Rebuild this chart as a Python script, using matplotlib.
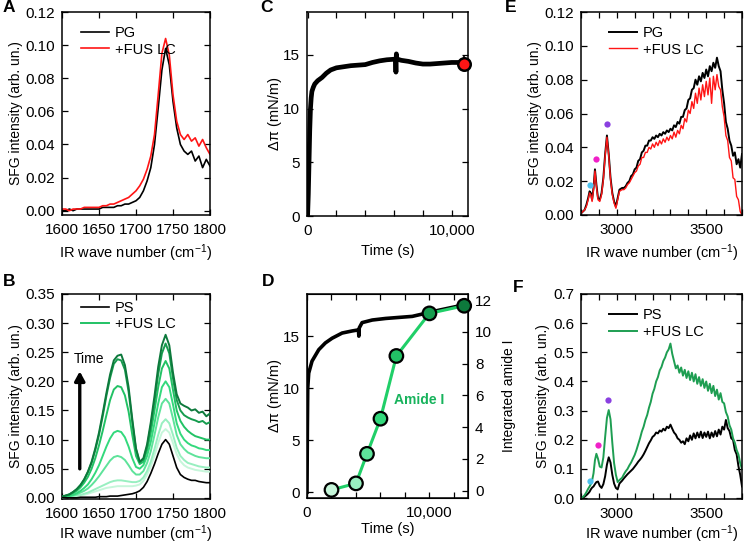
import matplotlib
matplotlib.use("Agg")
import matplotlib.pyplot as plt
from matplotlib.ticker import MultipleLocator, FixedLocator

plt.rcParams['font.family'] = ['Liberation Sans', 'DejaVu Sans']
plt.rcParams['mathtext.fontset'] = 'custom'
plt.rcParams['mathtext.rm'] = 'Liberation Sans'
plt.rcParams['mathtext.it'] = 'Liberation Sans:italic'
plt.rcParams['font.size'] = 10

# ---------------- data ----------------
# panel A (amide region, PG)
wn_A = list(range(1600, 1801, 5))
pg_A = [0.000, 0.000, 0.001, 0.000, 0.001, 0.001, 0.001, 0.001, 0.001, 0.001,
        0.001, 0.002, 0.002, 0.002, 0.002, 0.003, 0.003, 0.004, 0.004, 0.005,
        0.006, 0.008, 0.012, 0.018, 0.026, 0.040, 0.062, 0.085, 0.098, 0.088,
        0.066, 0.050, 0.040, 0.036, 0.034, 0.036, 0.030, 0.033, 0.026, 0.031, 0.027]
fus_A = [0.001, 0.001, 0.000, 0.001, 0.001, 0.001, 0.002, 0.002, 0.002, 0.002,
         0.002, 0.003, 0.003, 0.004, 0.004, 0.005, 0.006, 0.007, 0.008, 0.010,
         0.012, 0.015, 0.019, 0.025, 0.033, 0.046, 0.070, 0.095, 0.104, 0.094,
         0.070, 0.054, 0.046, 0.043, 0.046, 0.042, 0.044, 0.039, 0.043, 0.038, 0.034]

# panel B (amide region, PS, time series)
wn_B = list(range(1600, 1801, 5))
ps_B = [0.000, 0.000, 0.000, 0.000, 0.000, 0.001, 0.001, 0.001, 0.001, 0.001,
        0.002, 0.002, 0.002, 0.003, 0.003, 0.003, 0.004, 0.005, 0.006, 0.007,
        0.009, 0.012, 0.018, 0.028, 0.042, 0.058, 0.076, 0.092, 0.100, 0.092,
        0.072, 0.052, 0.040, 0.035, 0.032, 0.030, 0.030, 0.028, 0.027, 0.026, 0.026]
fus_B = [
    [0.000, 0.001, 0.001, 0.002, 0.003, 0.004, 0.005, 0.007, 0.009, 0.011,
     0.013, 0.015, 0.017, 0.018, 0.019, 0.020, 0.020, 0.020, 0.020, 0.020,
     0.021, 0.023, 0.029, 0.040, 0.054, 0.073, 0.094, 0.112, 0.118, 0.112,
     0.094, 0.075, 0.063, 0.056, 0.052, 0.050, 0.048, 0.047, 0.046, 0.045, 0.045],
    [0.001, 0.001, 0.002, 0.003, 0.004, 0.005, 0.007, 0.009, 0.012, 0.015,
     0.018, 0.021, 0.024, 0.027, 0.029, 0.030, 0.030, 0.029, 0.028, 0.027,
     0.027, 0.029, 0.035, 0.046, 0.062, 0.084, 0.108, 0.128, 0.135, 0.128,
     0.108, 0.086, 0.072, 0.065, 0.060, 0.058, 0.056, 0.054, 0.053, 0.052, 0.052],
    [0.001, 0.002, 0.003, 0.004, 0.006, 0.009, 0.012, 0.016, 0.022, 0.029,
     0.037, 0.046, 0.055, 0.064, 0.070, 0.072, 0.070, 0.065, 0.056, 0.046,
     0.040, 0.040, 0.046, 0.060, 0.080, 0.108, 0.138, 0.162, 0.170, 0.162,
     0.136, 0.108, 0.092, 0.084, 0.078, 0.075, 0.072, 0.070, 0.069, 0.068, 0.068],
    [0.001, 0.002, 0.003, 0.005, 0.008, 0.012, 0.017, 0.023, 0.032, 0.043,
     0.056, 0.072, 0.088, 0.102, 0.112, 0.115, 0.113, 0.104, 0.088, 0.068,
     0.053, 0.050, 0.056, 0.072, 0.096, 0.128, 0.162, 0.190, 0.200, 0.190,
     0.160, 0.128, 0.110, 0.100, 0.094, 0.090, 0.088, 0.085, 0.084, 0.082, 0.082],
    [0.002, 0.003, 0.005, 0.008, 0.012, 0.018, 0.026, 0.036, 0.050, 0.068,
     0.090, 0.115, 0.142, 0.168, 0.186, 0.192, 0.190, 0.176, 0.148, 0.108,
     0.072, 0.058, 0.062, 0.082, 0.112, 0.150, 0.190, 0.222, 0.235, 0.222,
     0.185, 0.150, 0.132, 0.122, 0.115, 0.110, 0.106, 0.104, 0.102, 0.100, 0.100],
    [0.002, 0.004, 0.006, 0.010, 0.015, 0.022, 0.031, 0.044, 0.060, 0.082,
     0.108, 0.140, 0.175, 0.206, 0.230, 0.238, 0.236, 0.220, 0.182, 0.130,
     0.083, 0.061, 0.066, 0.088, 0.124, 0.166, 0.212, 0.248, 0.265, 0.248,
     0.205, 0.168, 0.150, 0.142, 0.138, 0.135, 0.133, 0.130, 0.132, 0.127, 0.130],
    [0.002, 0.004, 0.006, 0.010, 0.015, 0.022, 0.032, 0.045, 0.062, 0.085,
     0.112, 0.145, 0.180, 0.212, 0.236, 0.244, 0.246, 0.228, 0.190, 0.135,
     0.085, 0.062, 0.068, 0.092, 0.130, 0.175, 0.225, 0.262, 0.280, 0.262,
     0.215, 0.178, 0.162, 0.158, 0.155, 0.150, 0.152, 0.146, 0.148, 0.140, 0.145],
]
time_greens = ['#c6f6da', '#98efc0', '#5ee39a', '#33d97c', '#22c265', '#169c4e', '#0d793c']

# panel C (surface pressure, PG)
t_C = [0, 50, 100, 150, 200, 250, 300, 400, 500, 700, 1000, 1300, 1600, 2000,
       2500, 3000, 3500, 4000, 4500, 5000, 5500, 6000, 6100, 6130, 6160, 6190,
       6250, 6500, 7000, 7500, 8000, 8500, 9000, 9500, 10000, 10500, 10900]
dpi_C = [0.0, 2.0, 5.0, 8.0, 10.0, 11.0, 11.6, 12.0, 12.3, 12.6, 12.9, 13.3, 13.6,
         13.8, 13.9, 14.0, 14.05, 14.1, 14.3, 14.45, 14.55, 14.6, 14.6, 13.4, 15.1,
         14.6, 14.6, 14.5, 14.4, 14.25, 14.15, 14.15, 14.2, 14.25, 14.3, 14.3, 14.3]
t_C_end = 10850
dpi_C_end = 14.2
dpi_C_err = 0.7

# panel D (surface pressure, PS + integrated amide I)
t_D = [0, 30, 60, 140, 410, 960, 1500, 2050, 2870, 3690, 4200, 4235, 4270, 4500,
       5330, 6420, 7500, 8600, 9700, 10800, 12400, 12840]
dpi_D = [0.0, 6.0, 10.0, 11.45, 12.6, 13.7, 14.35, 14.8, 15.3, 15.5, 15.6, 15.0, 15.8,
         16.3, 16.55, 16.7, 16.8, 16.9, 17.2, 17.5, 17.9, 17.95]
t_amide = [2000, 4000, 4900, 6000, 7300, 10000, 12840]
amide_I = [0.05, 0.46, 2.32, 4.53, 8.48, 11.16, 11.64]

# panels E, F (CH / OH region)
wn_CH = [2800, 2810, 2820, 2830, 2840, 2848, 2855, 2862, 2870, 2878, 2886, 2895,
         2905, 2915, 2925, 2935, 2945, 2955, 2965, 2975, 2985, 2995, 3005, 3015]
wn_EF = wn_CH + list(range(3030, 3701, 10))

pg_E = [0.001, 0.002, 0.003, 0.006, 0.010, 0.014, 0.013, 0.009, 0.016, 0.027, 0.018, 0.010,
        0.009, 0.013, 0.022, 0.036, 0.047, 0.036, 0.022, 0.013, 0.008, 0.005, 0.010, 0.015,
        0.016, 0.016, 0.017, 0.019, 0.020, 0.023, 0.024, 0.027, 0.028, 0.032, 0.033, 0.037,
        0.038, 0.041, 0.041, 0.044, 0.044, 0.046, 0.045, 0.047, 0.046, 0.048, 0.047, 0.049,
        0.048, 0.050, 0.049, 0.051, 0.050, 0.053, 0.052, 0.055, 0.054, 0.058, 0.058, 0.062,
        0.063, 0.068, 0.069, 0.074, 0.075, 0.080, 0.077, 0.082, 0.079, 0.084, 0.081, 0.086,
        0.082, 0.088, 0.085, 0.090, 0.087, 0.093, 0.088, 0.085, 0.074, 0.066, 0.055, 0.051,
        0.044, 0.041, 0.035, 0.037, 0.030, 0.033, 0.028, 0.036]
fus_E = [0.001, 0.002, 0.003, 0.005, 0.009, 0.013, 0.012, 0.008, 0.015, 0.026, 0.017, 0.009,
         0.008, 0.012, 0.021, 0.035, 0.046, 0.035, 0.021, 0.012, 0.007, 0.004, 0.009, 0.014,
         0.015, 0.015, 0.016, 0.018, 0.019, 0.021, 0.023, 0.025, 0.026, 0.029, 0.030, 0.034,
         0.034, 0.037, 0.037, 0.040, 0.039, 0.042, 0.040, 0.043, 0.041, 0.044, 0.042, 0.045,
         0.043, 0.046, 0.044, 0.047, 0.045, 0.049, 0.046, 0.050, 0.048, 0.053, 0.051, 0.057,
         0.055, 0.062, 0.060, 0.067, 0.063, 0.072, 0.066, 0.075, 0.068, 0.077, 0.070, 0.079,
         0.071, 0.081, 0.066, 0.082, 0.074, 0.083, 0.076, 0.074, 0.064, 0.058, 0.047, 0.044,
         0.034, 0.032, 0.022, 0.021, 0.011, 0.009, 0.002, 0.000]

ps_F = [0.000, 0.002, 0.005, 0.010, 0.016, 0.022, 0.030, 0.036, 0.040, 0.048, 0.055, 0.057,
        0.042, 0.035, 0.048, 0.075, 0.115, 0.140, 0.122, 0.080, 0.050, 0.035, 0.030, 0.050,
        0.060, 0.068, 0.075, 0.082, 0.088, 0.094, 0.100, 0.108, 0.116, 0.125, 0.132, 0.140,
        0.150, 0.162, 0.175, 0.188, 0.198, 0.210, 0.215, 0.225, 0.222, 0.232, 0.228, 0.238,
        0.232, 0.245, 0.240, 0.252, 0.238, 0.225, 0.218, 0.205, 0.200, 0.190, 0.195, 0.185,
        0.205, 0.195, 0.215, 0.200, 0.222, 0.205, 0.225, 0.208, 0.228, 0.206, 0.225, 0.210,
        0.228, 0.205, 0.225, 0.210, 0.230, 0.212, 0.235, 0.218, 0.245, 0.235, 0.268, 0.240,
        0.230, 0.205, 0.200, 0.165, 0.150, 0.110, 0.080, 0.040]
fus_F = [0.000, 0.004, 0.010, 0.020, 0.032, 0.040, 0.048, 0.060, 0.085, 0.130, 0.152, 0.135,
         0.108, 0.105, 0.140, 0.210, 0.275, 0.302, 0.270, 0.190, 0.120, 0.080, 0.055, 0.062,
         0.070, 0.082, 0.092, 0.100, 0.112, 0.122, 0.135, 0.148, 0.165, 0.185, 0.205, 0.228,
         0.245, 0.268, 0.285, 0.310, 0.330, 0.358, 0.375, 0.400, 0.415, 0.438, 0.450, 0.470,
         0.482, 0.500, 0.510, 0.530, 0.495, 0.470, 0.445, 0.455, 0.430, 0.448, 0.420, 0.440,
         0.412, 0.435, 0.405, 0.430, 0.400, 0.425, 0.392, 0.415, 0.385, 0.408, 0.378, 0.400,
         0.368, 0.392, 0.360, 0.385, 0.350, 0.372, 0.338, 0.360, 0.330, 0.325, 0.295, 0.280,
         0.250, 0.235, 0.205, 0.190, 0.165, 0.150, 0.120, 0.100]

# CH-mode markers (wave number, intensity) for E and F
dot_colors = ['#4fc3f0', '#f020c8', '#8a40e0']
dots_E_x = [2852, 2883, 2944]
dots_E_y = [0.018, 0.033, 0.054]
dots_F_x = [2852, 2894, 2950]
dots_F_y = [0.060, 0.181, 0.338]

RED = '#ff1515'
GREEN = '#1e9e52'
LINE_GREEN = '#20cf68'
TICK_FS = 11
XLAB_FS = 10.5
YLAB_FS = 10
LEG_FS = 10.5

W, H = 750, 550
fig = plt.figure(figsize=(7.5, 5.5), dpi=100)


def rect(l, r, t, b):
    return [l / W, 1 - b / H, (r - l) / W, (b - t) / H]


def style(ax, right=True):
    ax.tick_params(which='both', direction='in', length=4, width=0.9, top=True, right=right,
                   labelsize=TICK_FS)
    ax.tick_params(axis='x', which='both', pad=6)
    ax.tick_params(axis='y', which='both', pad=5)
    for s in ax.spines.values():
        s.set_linewidth(1.1)


wn_label = 'IR wave number (cm$^{-1}$)'
sfg_label = 'SFG intensity (arb. un.)'
leg_kw = dict(loc='upper left', frameon=False, handlelength=1.9, handletextpad=0.4,
              labelspacing=0.15, borderpad=0, fontsize=LEG_FS)
TOP_LP = 4     # xlabel pad, top row
BOT_LP = 1.5   # xlabel pad, bottom row

# ---- A ----
axA = fig.add_axes(rect(62, 210, 12, 215))
axA.plot(wn_A, pg_A, color='k', lw=1.2, label='PG')
axA.plot(wn_A, fus_A, color=RED, lw=1.2, label='+FUS LC')
axA.set_xlim(1600, 1800)
axA.set_ylim(-0.0026, 0.12)
axA.xaxis.set_major_locator(FixedLocator([1600, 1650, 1700, 1750, 1800]))
axA.yaxis.set_major_locator(MultipleLocator(0.02))
axA.yaxis.set_major_formatter(matplotlib.ticker.FormatStrFormatter('%.2f'))
axA.set_xlabel(wn_label, fontsize=XLAB_FS, labelpad=TOP_LP)
axA.set_ylabel(sfg_label, fontsize=YLAB_FS, labelpad=2)
style(axA)
axA.legend(bbox_to_anchor=(0.08, 0.965), **leg_kw)

# ---- B ----
axB = fig.add_axes(rect(62, 210, 294, 499))
axB.plot(wn_B, ps_B, color='k', lw=1.2, label='PS', zorder=5)
for i, (curve, c) in enumerate(zip(fus_B, time_greens)):
    axB.plot(wn_B, curve, color=c, lw=1.4, label='+FUS LC' if i == 4 else None, zorder=4)
axB.set_xlim(1600, 1800)
axB.set_ylim(-0.002, 0.35)
axB.xaxis.set_major_locator(FixedLocator([1600, 1650, 1700, 1750, 1800]))
axB.yaxis.set_major_locator(MultipleLocator(0.05))
axB.yaxis.set_major_formatter(matplotlib.ticker.FormatStrFormatter('%.2f'))
axB.set_xlabel(wn_label, fontsize=XLAB_FS, labelpad=BOT_LP)
axB.set_ylabel(sfg_label, fontsize=YLAB_FS, labelpad=2)
style(axB)
axB.legend(bbox_to_anchor=(0.08, 1.0), **leg_kw)
axB.annotate('', xy=(1624, 0.222), xytext=(1624, 0.045),
             arrowprops=dict(arrowstyle='-|>,head_width=0.3,head_length=0.55', lw=2.4, color='k'))
axB.text(1637, 0.238, 'Time', ha='center', va='center', fontsize=10)

# ---- C ----
axC = fig.add_axes(rect(307, 468, 12, 216))
axC.plot(t_C, dpi_C, color='k', lw=3.4, solid_joinstyle='round')
axC.errorbar([t_C_end], [dpi_C_end], yerr=dpi_C_err, fmt='o', ms=9, mfc=RED, mec='k', mew=1.8,
             ecolor='k', elinewidth=1.2, capsize=0, zorder=6, clip_on=False)
axC.set_xlim(-40, 11130)
axC.set_ylim(0, 19)
axC.xaxis.set_major_locator(FixedLocator([0, 10000]))
axC.xaxis.set_minor_locator(MultipleLocator(2000))
axC.xaxis.set_major_formatter(matplotlib.ticker.FuncFormatter(lambda v, p: f'{int(v):,}'))
axC.yaxis.set_major_locator(MultipleLocator(5))
axC.set_xlabel('Time (s)', fontsize=XLAB_FS, labelpad=TOP_LP)
axC.set_ylabel('Δπ (mN/m)', fontsize=10.5, labelpad=1)
style(axC)

# ---- D ----
axD = fig.add_axes(rect(307, 468, 294, 498))
axD.plot(t_D, dpi_D, color='k', lw=2.6)
axD.set_xlim(0, 13150)
axD.set_ylim(-0.55, 19.05)
axD.xaxis.set_major_locator(FixedLocator([0, 10000]))
axD.xaxis.set_minor_locator(MultipleLocator(2000))
axD.xaxis.set_major_formatter(matplotlib.ticker.FuncFormatter(lambda v, p: f'{int(v):,}'))
axD.yaxis.set_major_locator(MultipleLocator(5))
axD.set_xlabel('Time (s)', fontsize=XLAB_FS, labelpad=BOT_LP)
axD.set_ylabel('Δπ (mN/m)', fontsize=10.5, labelpad=1)
style(axD, right=False)
axD2 = axD.twinx()
axD2.plot(t_amide, amide_I, color=LINE_GREEN, lw=2.2, zorder=3, clip_on=False)
axD2.scatter(t_amide, amide_I, s=95, c=time_greens, edgecolors='k', linewidths=1.6,
             zorder=4, clip_on=False)
axD2.set_ylim(-0.46, 12.38)
axD2.yaxis.set_major_locator(MultipleLocator(2))
axD2.tick_params(direction='in', length=4, width=0.9, labelsize=TICK_FS, pad=5)
axD2.set_ylabel('Integrated amide I', fontsize=YLAB_FS, labelpad=7)
axD2.text(9150, 5.68, 'Amide I', color='#17b35c', fontweight='bold', ha='center',
          va='center', fontsize=10)

# ---- E ----
axE = fig.add_axes(rect(581, 742, 12, 215))
axE.plot(wn_EF, pg_E, color='k', lw=1.4, label='PG')
axE.plot(wn_EF, fus_E, color=RED, lw=1.0, label='+FUS LC')
for x, y, c in zip(dots_E_x, dots_E_y, dot_colors):
    axE.plot(x, y, 'o', ms=4.5, color=c, mec='none')
axE.set_xlim(2800, 3700)
axE.set_ylim(0, 0.12)
axE.xaxis.set_major_locator(FixedLocator([3000, 3500]))
axE.xaxis.set_minor_locator(MultipleLocator(100))
axE.yaxis.set_major_locator(MultipleLocator(0.02))
axE.yaxis.set_major_formatter(matplotlib.ticker.FormatStrFormatter('%.2f'))
axE.set_xlabel(wn_label, fontsize=XLAB_FS, labelpad=TOP_LP)
axE.set_ylabel(sfg_label, fontsize=YLAB_FS, labelpad=2)
style(axE)
axE.legend(bbox_to_anchor=(0.13, 0.965), **leg_kw)

# ---- F ----
axF = fig.add_axes(rect(581, 742, 294, 499))
axF.plot(wn_EF, ps_F, color='k', lw=1.4, label='PS')
axF.plot(wn_EF, fus_F, color=GREEN, lw=1.4, label='+FUS LC')
for x, y, c in zip(dots_F_x, dots_F_y, dot_colors):
    axF.plot(x, y, 'o', ms=4.5, color=c, mec='none')
axF.set_xlim(2800, 3700)
axF.set_ylim(-0.003, 0.7)
axF.xaxis.set_major_locator(FixedLocator([3000, 3500]))
axF.xaxis.set_minor_locator(MultipleLocator(100))
axF.yaxis.set_major_locator(MultipleLocator(0.1))
axF.yaxis.set_major_formatter(matplotlib.ticker.FormatStrFormatter('%.1f'))
axF.set_xlabel(wn_label, fontsize=XLAB_FS, labelpad=BOT_LP)
axF.set_ylabel(sfg_label, fontsize=YLAB_FS, labelpad=2)
style(axF)
axF.legend(bbox_to_anchor=(0.13, 0.965), **leg_kw)

# panel letters
for lab, x, y in [('A', 3, 8), ('B', 3, 281), ('C', 260, 8), ('D', 262, 281),
                  ('E', 505, 8), ('F', 513, 288)]:
    fig.text(x / W, 1 - y / H, lab, fontsize=12.5, fontweight='bold', va='center', ha='left')

fig.savefig('out.png', dpi=100)
